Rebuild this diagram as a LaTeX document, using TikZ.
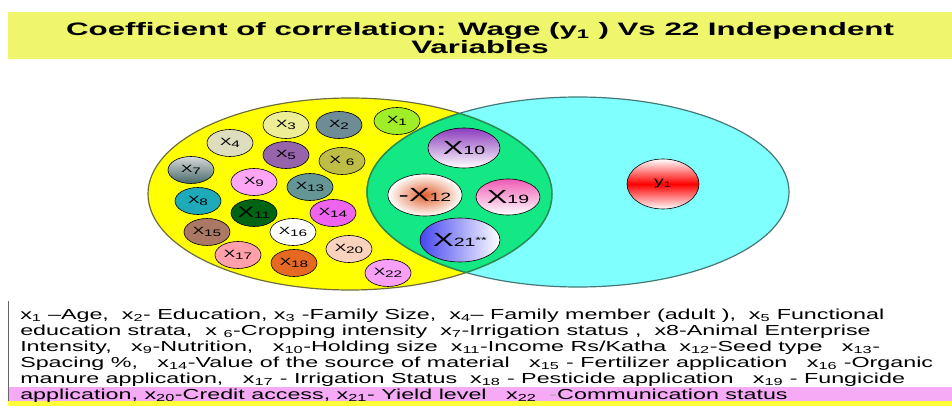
\documentclass[tikz,border=0pt]{standalone}
\usepackage{fontspec}
\setmainfont{Liberation Sans}[FakeStretch=1.25]
\usepackage{graphicx}
\usetikzlibrary{shapes.geometric,positioning}

\definecolor{titlebar}{RGB}{239,246,107}
\definecolor{venny}{RGB}{255,255,0}
\definecolor{vennc}{RGB}{128,255,255}
\definecolor{lens}{RGB}{20,232,132}
\definecolor{lensedge}{RGB}{40,140,80}
\definecolor{yedge}{RGB}{110,110,60}
\definecolor{cedge}{RGB}{70,120,120}
\definecolor{legendpink}{RGB}{246,170,246}
\definecolor{stripe}{RGB}{255,255,60}
\definecolor{c1}{RGB}{160,238,40}
\definecolor{c2}{RGB}{110,140,150}
\definecolor{c3}{RGB}{238,238,150}
\definecolor{c4}{RGB}{222,222,190}
\definecolor{c5}{RGB}{150,100,170}
\definecolor{c6}{RGB}{190,190,70}
\definecolor{c8}{RGB}{30,170,185}
\definecolor{c9}{RGB}{255,165,245}
\definecolor{c11}{RGB}{0,100,20}
\definecolor{c13}{RGB}{100,150,150}
\definecolor{c14}{RGB}{238,100,238}
\definecolor{c15}{RGB}{170,120,100}
\definecolor{c17}{RGB}{255,160,170}
\definecolor{c18}{RGB}{230,105,35}
\definecolor{c20}{RGB}{250,210,190}
\definecolor{c22}{RGB}{248,160,248}

\newcommand{\wide}[1]{\scalebox{1.3}[1]{#1}}
\newcommand{\xsub}[1]{\raisebox{-0.15em}{\scalebox{0.9}{#1}}}
\newcommand{\bigx}[1]{\wide{{\fontsize{19}{19}\selectfont X}{\fontsize{12}{12}\selectfont #1}}}

\begin{document}
\begin{tikzpicture}[x=1pt, y=-1pt]
    \tikzstyle{var} = [ellipse, draw=black, line width=0.6pt, minimum width=46pt, minimum height=27pt, inner sep=0pt, font=\fontsize{10.5}{10.5}\selectfont]
    \tikzstyle{core} = [ellipse, draw=black, line width=0.6pt, inner sep=0pt]
    \useasboundingbox (0,0) rectangle (952,406);

    % title bar
    \fill [titlebar] (8,12) rectangle (952,59);
    \node [xscale=1.39, transform shape, font=\bfseries\fontsize{18}{18}\selectfont, align=center] (title) at (480,38) {Coefficient of correlation: Wage (y\textsubscript{1} ) Vs 22 Independent\\Variables};

    % the two sets
    \coordinate (yc) at (350,194);
    \coordinate (cc) at (578,192);
    \filldraw [fill=venny, draw=yedge, line width=1.2pt] (yc) ellipse [x radius=202, y radius=96];
    \filldraw [fill=vennc, draw=cedge, line width=1.2pt] (cc) ellipse [x radius=211, y radius=95];
    \begin{scope}
        \clip (yc) ellipse [x radius=202, y radius=96];
        \fill [lens] (cc) ellipse [x radius=211, y radius=95];
        \draw [lensedge, line width=1.5pt] (cc) ellipse [x radius=211, y radius=95];
    \end{scope}
    \begin{scope}
        \clip (cc) ellipse [x radius=211, y radius=95];
        \draw [lensedge, line width=1.5pt] (yc) ellipse [x radius=202, y radius=96];
    \end{scope}

    % independent variables
    \node [var, fill=c1] (x1) at (397,121) {\wide{X\xsub{1}}};
    \node [var, fill=c2] (x2) at (339,125) {\wide{X\xsub{2}}};
    \node [var, fill=c3] (x3) at (286,125) {\wide{X\xsub{3}}};
    \node [var, fill=c4] (x4) at (230,143) {\wide{X\xsub{4}}};
    \node [var, fill=c5] (x5) at (286,155) {\wide{X\xsub{5}}};
    \node [var, fill=c6] (x6) at (342,161) {\wide{X\ \xsub{6}}};
    \node [var, top color=gray!30, bottom color=c13!70!black] (x7) at (191,170) {\wide{X\xsub{7}}};
    \node [var, fill=c8] (x8) at (198,201) {\wide{X\xsub{8}}};
    \node [var, fill=c9] (x9) at (254,182) {\wide{X\xsub{9}}};
    \node [var, fill=c13] (x13) at (310,187) {\wide{X\xsub{13}}};
    \node [var, fill=c11] (x11) at (254,213) {\wide{{\fontsize{15}{15}\selectfont X}\xsub{11}}};
    \node [var, fill=c14] (x14) at (333,213) {\wide{X\xsub{14}}};
    \node [var, fill=c15] (x15) at (207,232) {\wide{X\xsub{15}}};
    \node [var, fill=white] (x16) at (293,232) {\wide{X\xsub{16}}};
    \node [var, fill=c17] (x17) at (238,255) {\wide{X\xsub{17}}};
    \node [var, fill=c18] (x18) at (294,263) {\wide{X\xsub{18}}};
    \node [var, fill=c20] (x20) at (349,249) {\wide{X\xsub{20}}};
    \node [var, fill=c22] (x22) at (388,273) {\wide{X\xsub{22}}};

    % common part
    \node [core, minimum width=72pt, minimum height=40pt, top color={rgb,255:red,140;green,60;blue,190}, bottom color=white] (x10) at (464,148) {\bigx{10}};
    \node [core, minimum width=70pt, minimum height=42pt, inner color={rgb,255:red,225;green,95;blue,45}, outer color=white] (x12) at (425,195) {\wide{{\fontsize{19}{19}\selectfont -X}{\fontsize{12}{12}\selectfont 12}}};
    \node [core, minimum width=64pt, minimum height=36pt, shading angle=135, top color={rgb,255:red,240;green,90;blue,180}, bottom color=white] (x19) at (508,197) {\bigx{19}};
    \node [core, minimum width=80pt, minimum height=44pt, left color={rgb,255:red,70;green,70;blue,240}, right color=white] (x21) at (460,240) {\bigx{21}\wide{\raisebox{0.3em}{\fontsize{9}{9}\selectfont **}}};

    % dependent variable
    \node [core, minimum width=72pt, minimum height=50pt, top color=white, bottom color=white, middle color=red, font=\fontsize{12}{12}\selectfont] (y1) at (663,184) {\wide{y\textsubscript{1}}};

    % legend
    \fill [legendpink] (8,387) rectangle (952,401);
    \fill [stripe] (8,401) rectangle (952,406);
    \draw [black!60, line width=0.8pt] (8,301) -- (8,401);
    \node [xscale=1.285, transform shape, anchor=west, align=left, inner sep=0pt, font=\fontsize{14.5}{16}\selectfont] (legend) at (20,356) {x\textsubscript{1} --Age,~ x\textsubscript{2}- Education, x\textsubscript{3} -Family Size,~ x\textsubscript{4}-- Family member (adult ),~ x\textsubscript{5} Functional\\
        education strata,~ x \textsubscript{6}-Cropping intensity~ x\textsubscript{7}-Irrigation status ,~ x8-Animal Enterprise\\
        Intensity,~~ x\textsubscript{9}-Nutrition,~~ x\textsubscript{10}-Holding size~ x\textsubscript{11}-Income Rs/Katha~ x\textsubscript{12}-Seed type~~ x\textsubscript{13}-\\
        Spacing \%,~~ x\textsubscript{14}-Value of the source of material~~ x\textsubscript{15} - Fertilizer application~~ x\textsubscript{16} -Organic\\
        manure application,~~ x\textsubscript{17} - Irrigation Status~ x\textsubscript{18} - Pesticide application~~ x\textsubscript{19} - Fungicide\\
        application, x\textsubscript{20}-Credit access, x\textsubscript{21}- Yield level~~ x\textsubscript{22}~ {\color{black!35}-}Communication status};
\end{tikzpicture}
\end{document}
